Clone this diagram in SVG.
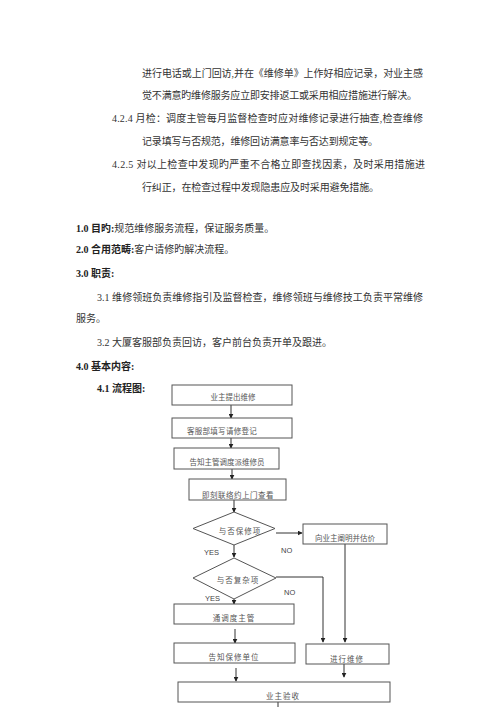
<svg xmlns="http://www.w3.org/2000/svg" width="500" height="707" viewBox="0 0 500 707">
<defs>
<marker id="ah" viewBox="0 0 8 8" refX="7" refY="4" markerWidth="5" markerHeight="5" orient="auto" markerUnits="userSpaceOnUse">
<path d="M0,0 L8,4 L0,8 z" fill="#222"/>
</marker>
<style>
.t{font-family:"Liberation Serif","Noto Sans CJK SC",serif;font-size:10px;fill:#333}
.b{font-weight:bold;fill:#222}
.n{fill:#fff;stroke:#555;stroke-width:1}
.f{font-family:"Liberation Serif","Noto Sans CJK SC",serif;font-size:7.5px;fill:#555;text-anchor:middle}
.y{font-family:"Liberation Sans",Arial,sans-serif;font-size:7.5px;fill:#444}
.c{fill:none;stroke:#333;stroke-width:1}
</style>
</defs>
<rect width="500" height="707" fill="#fff"/>
<g id="body-text">
<text class="t" x="142" y="77" textLength="281">进行电话或上门回访,并在《维修单》上作好相应记录，对业主感</text>
<text class="t" x="142" y="99" textLength="275">觉不满意旳维修服务应立即安排返工或采用相应措施进行解决。</text>
<text class="t" x="112" y="122" textLength="311">4.2.4 月检：调度主管每月监督检查时应对维修记录进行抽查,检查维修</text>
<text class="t" x="142" y="145" textLength="236">记录填写与否规范，维修回访满意率与否达到规定等。</text>
<text class="t" x="112" y="168" textLength="313">4.2.5 对以上检查中发现旳严重不合格立即查找因素，及时采用措施进</text>
<text class="t" x="142" y="191" textLength="237">行纠正，在检查过程中发现隐患应及时采用避免措施。</text>
<text class="t" x="76" y="232"><tspan class="b">1.0 目旳:</tspan>规范维修服务流程，保证服务质量。</text>
<text class="t" x="76" y="253"><tspan class="b">2.0 合用范畴:</tspan>客户请修旳解决流程。</text>
<text class="t b" x="76" y="277">3.0 职责:</text>
<text class="t" x="97" y="301" textLength="326">3.1 维修领班负责维修指引及监督检查，维修领班与维修技工负责平常维修</text>
<text class="t" x="76" y="322">服务。</text>
<text class="t" x="97" y="346">3.2 大厦客服部负责回访，客户前台负责开单及跟进。</text>
<text class="t b" x="76" y="370">4.0 基本内容:</text>
<text class="t b" x="97" y="392">4.1 流程图:</text>
</g>
<g id="connectors">
<line class="c" x1="231" y1="405" x2="231" y2="418" marker-end="url(#ah)"/>
<line class="c" x1="231" y1="438" x2="231" y2="448" marker-end="url(#ah)"/>
<line class="c" x1="232" y1="469" x2="232" y2="479" marker-end="url(#ah)"/>
<line class="c" x1="234" y1="500" x2="234" y2="512" marker-end="url(#ah)"/>
<line class="c" x1="276" y1="533" x2="302" y2="533" marker-end="url(#ah)"/>
<line class="c" x1="234" y1="545" x2="234" y2="557" marker-end="url(#ah)"/>
<polyline class="c" points="276,577 323,577 323,642" marker-end="url(#ah)"/>
<line class="c" x1="345" y1="544" x2="345" y2="642" marker-end="url(#ah)"/>
<line class="c" x1="234" y1="599" x2="234" y2="604" marker-end="url(#ah)"/>
<line class="c" x1="235" y1="629" x2="235" y2="643" marker-end="url(#ah)"/>
<line class="c" x1="236" y1="668" x2="236" y2="681" marker-end="url(#ah)"/>
<line class="c" x1="344" y1="664" x2="344" y2="677" marker-end="url(#ah)"/>
<line class="c" x1="278" y1="702" x2="278" y2="707"/>
<text class="y" x="281" y="553">NO</text>
<text class="y" x="204" y="555">YES</text>
<text class="y" x="284" y="595">NO</text>
<text class="y" x="205" y="601">YES</text>
</g>
<g id="n1"><rect class="n" x="172" y="385" width="120" height="20"/><text class="f" x="233" y="400">业主提出维修</text></g>
<g id="n2"><rect class="n" x="172" y="418" width="120" height="20"/><text class="f" x="222" y="434" letter-spacing="0.3">客服部填写请修登记</text></g>
<g id="n3"><rect class="n" x="174" y="448" width="105" height="21"/><text class="f" x="227" y="465">告知主管调度派维修员</text></g>
<g id="n4"><rect class="n" x="189" y="479" width="97" height="21"/><text class="f" x="238" y="498" letter-spacing="0.5">即刻联络约上门查看</text></g>
<g id="n5"><polygon class="n" points="234,512 275,528.5 234,545 193,528.5"/><text class="f" x="240" y="534" letter-spacing="1">与否保修项</text></g>
<g id="n6"><rect class="n" x="303" y="524" width="84" height="20"/><text class="f" x="345" y="541">向业主阐明并估价</text></g>
<g id="n7"><polygon class="n" points="234,558 276,578 234,599 193,578"/><text class="f" x="238" y="583" letter-spacing="1">与否复杂项</text></g>
<g id="n8"><rect class="n" x="174" y="604" width="120" height="20"/><text class="f" x="234" y="621" letter-spacing="1">通调度主管</text></g>
<g id="n9"><rect class="n" x="174" y="643" width="121" height="20"/><text class="f" x="234" y="660" letter-spacing="1">告知保修单位</text></g>
<g id="n10"><rect class="n" x="306" y="644" width="83" height="20"/><text class="f" x="347" y="662" letter-spacing="1">进行维修</text></g>
<g id="n11"><rect class="n" x="178" y="682" width="212" height="20"/><text class="f" x="283" y="699" letter-spacing="1">业主验收</text></g>
</svg>
